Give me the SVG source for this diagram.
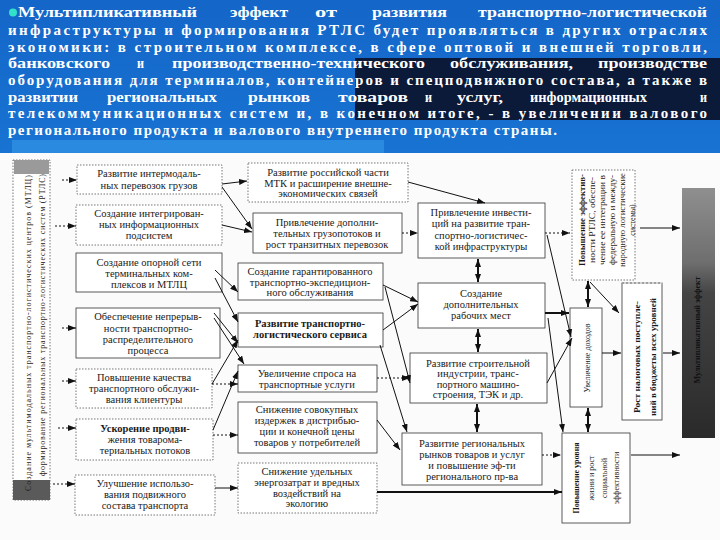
<svg xmlns="http://www.w3.org/2000/svg" width="720" height="540" viewBox="0 0 720 540">
<defs>
<marker id="a" viewBox="0 0 8 6" refX="8" refY="3" markerWidth="8" markerHeight="6" markerUnits="userSpaceOnUse" orient="auto-start-reverse"><path d="M0,0 L8,3 L0,6 z" fill="#111"/></marker>
<linearGradient id="g5" x1="0" y1="0" x2="0" y2="1"><stop offset="0" stop-color="#8f8f8f"/><stop offset="0.3" stop-color="#6e6e6e"/><stop offset="0.42" stop-color="#444"/><stop offset="1" stop-color="#2a2a2a"/></linearGradient>
<linearGradient id="gb" x1="0" y1="0" x2="0" y2="1"><stop offset="0" stop-color="#1466c8"/><stop offset="1" stop-color="#1873d2"/></linearGradient>
</defs>
<style>
.hd{font-family:"Liberation Serif",serif;font-weight:bold;font-size:15px;fill:#fff}
.bx{fill:#fff;stroke:#333;stroke-width:0.8}
.bd{fill:#fff;stroke:#555;stroke-width:0.8;stroke-dasharray:1.5 1.5}
.t{font-family:"Liberation Serif",serif;font-size:10.5px;fill:#1a1a1a;text-anchor:middle}
.s{font-size:8px}
.b{font-weight:bold}
.dk{fill:#111}
.c{fill:none;stroke:#111;stroke-width:1}
.d{stroke-dasharray:2 2}
.th{stroke-width:2}
</style>

<rect x="0" y="0" width="720" height="153" fill="url(#gb)"/>
<rect x="355" y="58" width="365" height="62" fill="#0b1a38"/>
<rect x="12" y="140" width="372" height="13" fill="#2a8ae0"/>

<g id="heading">
<circle cx="13" cy="12.5" r="4" fill="#33e0c8"/>
<text class="hd" x="18" y="17" textLength="179" lengthAdjust="spacingAndGlyphs">Мультипликативный</text>
<text class="hd" x="230" y="17" textLength="58" lengthAdjust="spacingAndGlyphs">эффект</text>
<text class="hd" x="315" y="17" textLength="22" lengthAdjust="spacingAndGlyphs">от</text>
<text class="hd" x="372" y="17" textLength="75" lengthAdjust="spacingAndGlyphs">развития</text>
<text class="hd" x="478" y="17" textLength="229" lengthAdjust="spacingAndGlyphs">транспортно-логистической</text>
<text class="hd" x="8" y="35" textLength="699" lengthAdjust="spacing">инфраструктуры и формирования РТЛС будет проявляться в других отраслях</text>
<text class="hd" x="8" y="52" textLength="699" lengthAdjust="spacing">экономики: в строительном комплексе, в сфере оптовой и внешней торговли,</text>
<text class="hd" x="8" y="68" textLength="102" lengthAdjust="spacingAndGlyphs">банковского</text>
<text class="hd" x="137" y="68" textLength="7" lengthAdjust="spacingAndGlyphs">и</text>
<text class="hd" x="172" y="68" textLength="253" lengthAdjust="spacingAndGlyphs">производственно-технического</text>
<text class="hd" x="450" y="68" textLength="123" lengthAdjust="spacingAndGlyphs">обслуживания,</text>
<text class="hd" x="598" y="68" textLength="109" lengthAdjust="spacingAndGlyphs">производстве</text>
<text class="hd" x="8" y="85" textLength="699" lengthAdjust="spacing">оборудования для терминалов, контейнеров и спецподвижного состава, а также в</text>
<text class="hd" x="8" y="102" textLength="70" lengthAdjust="spacingAndGlyphs">развитии</text>
<text class="hd" x="107" y="102" textLength="110" lengthAdjust="spacingAndGlyphs">региональных</text>
<text class="hd" x="248" y="102" textLength="62" lengthAdjust="spacingAndGlyphs">рынков</text>
<text class="hd" x="338" y="102" textLength="70" lengthAdjust="spacingAndGlyphs">товаров</text>
<text class="hd" x="425" y="102" textLength="7" lengthAdjust="spacingAndGlyphs">и</text>
<text class="hd" x="457" y="102" textLength="46" lengthAdjust="spacingAndGlyphs">услуг,</text>
<text class="hd" x="530" y="102" textLength="117" lengthAdjust="spacingAndGlyphs">информационных</text>
<text class="hd" x="700" y="102" textLength="7" lengthAdjust="spacingAndGlyphs">и</text>
<text class="hd" x="8" y="118" textLength="699" lengthAdjust="spacing">телекоммуникационных систем и, в конечном итоге, - в увеличении валового</text>
<text class="hd" x="8" y="135" textLength="549" lengthAdjust="spacing">регионального продукта и валового внутреннего продукта страны.</text>
</g>

<rect x="0" y="153" width="720" height="387" fill="#fbfbfb"/>

<g id="left-frame">
<rect x="13" y="160" width="37" height="340" class="bd"/>
<rect x="14" y="160" width="35" height="14" fill="#9a9a9a"/>
<rect x="13" y="480" width="37" height="20" fill="#5a5a5a"/>
<text class="t s" transform="translate(31,333) rotate(-90)" textLength="316" lengthAdjust="spacing">Создание мультимодальных транспортно-логистических центров (МТЛЦ)</text>
<text class="t s" transform="translate(45,325) rotate(-90)" textLength="302" lengthAdjust="spacing">формирование региональных транспортно-логистических систем (РТЛС)</text>
</g>

<g id="box1"><rect class="bd" x="77" y="165" width="145" height="29"/>
<text class="t" x="149" y="177">Развитие интермодаль-</text><text class="t" x="149" y="189">ных перевозок грузов</text></g>
<g id="box2"><rect class="bd" x="76" y="205" width="146" height="40"/>
<text class="t" x="149" y="217">Создание интегрирован-</text><text class="t" x="149" y="228">ных информационных</text><text class="t" x="149" y="239">подсистем</text></g>
<g id="box3"><rect class="bx" x="76" y="253" width="146" height="39"/>
<text class="t" x="149" y="266">Создание опорной сети</text><text class="t" x="149" y="277">терминальных ком-</text><text class="t" x="149" y="288">плексов и МТЛЦ</text></g>
<g id="box4"><rect class="bx" x="76" y="308" width="144" height="50"/>
<text class="t" x="148" y="320">Обеспечение непрерыв-</text><text class="t" x="148" y="332">ности транспортно-</text><text class="t" x="148" y="343">распределительного</text><text class="t" x="148" y="354">процесса</text></g>
<g id="box5"><rect class="bd" x="76" y="369" width="136" height="39"/>
<text class="t" x="144" y="381">Повышение качества</text><text class="t" x="144" y="392">транспортного обслужи-</text><text class="t" x="144" y="403">вания клиентуры</text></g>
<g id="box6"><rect class="bd" x="76" y="419" width="137" height="41"/>
<text class="t b" x="145" y="432">Ускорение продви-</text><text class="t" x="145" y="443">жения товарома-</text><text class="t" x="145" y="454">териальных потоков</text></g>
<g id="box7"><rect class="bd" x="75" y="475" width="140" height="40"/>
<text class="t" x="145" y="487">Улучшение использо-</text><text class="t" x="145" y="498">вания подвижного</text><text class="t" x="145" y="509">состава транспорта</text></g>

<g id="m1"><rect class="bd" x="248" y="163" width="160" height="39"/>
<text class="t" x="328" y="176">Развитие российской части</text><text class="t" x="328" y="187">МТК и расширение внешне-</text><text class="t" x="328" y="197">экономических связей</text></g>
<g id="m2"><rect class="bx" x="253" y="213" width="149" height="40"/>
<text class="t" x="327" y="226">Привлечение дополни-</text><text class="t" x="327" y="237">тельных грузопотоков и</text><text class="t" x="327" y="248">рост транзитных перевозок</text></g>
<g id="m3"><rect class="bx" x="238" y="263" width="145" height="37"/>
<text class="t" x="310" y="275">Создание гарантированного</text><text class="t" x="310" y="286">транспортно-экспедицион-</text><text class="t" x="310" y="296">ного обслуживания</text></g>
<g id="m4"><rect class="bx" x="238" y="313" width="145" height="34"/>
<text class="t b" x="310" y="327">Развитие транспортно-</text><text class="t b" x="310" y="338">логистического сервиса</text></g>
<g id="m5"><rect class="bx" x="238" y="365" width="139" height="27"/>
<text class="t" x="307" y="377">Увеличение спроса на</text><text class="t" x="307" y="388">транспортные услуги</text></g>
<g id="m6"><rect class="bx" x="238" y="402" width="139" height="51"/>
<text class="t" x="307" y="413">Снижение совокупных</text><text class="t" x="307" y="424">издержек в дистрибью-</text><text class="t" x="307" y="435">ции и конечной цены</text><text class="t" x="307" y="446">товаров у потребителей</text></g>
<g id="m7"><rect class="bd" x="238" y="463" width="139" height="50"/>
<text class="t" x="307" y="475">Снижение удельных</text><text class="t" x="307" y="486">энергозатрат и вредных</text><text class="t" x="307" y="497">воздействий на</text><text class="t" x="307" y="507">экологию</text></g>

<g id="r1"><rect class="bx" x="418" y="203" width="127" height="55"/>
<text class="t" x="481" y="216">Привлечение инвести-</text><text class="t" x="481" y="227">ций на развитие тран-</text><text class="t" x="481" y="239">спортно-логистичес-</text><text class="t" x="481" y="250">кой инфраструктуры</text></g>
<g id="r2"><rect class="bx" x="418" y="283" width="127" height="45"/>
<text class="t" x="481" y="297">Создание</text><text class="t" x="481" y="308">дополнительных</text><text class="t" x="481" y="319">рабочих мест</text></g>
<g id="r3"><rect class="bx" x="410" y="353" width="137" height="50"/>
<text class="t" x="478" y="367">Развитие строительной</text><text class="t" x="478" y="377">индустрии, транс-</text><text class="t" x="478" y="388">портного машино-</text><text class="t" x="478" y="398">строения, ТЭК и др.</text></g>
<g id="r4"><rect class="bx" x="402" y="433" width="140" height="52"/>
<text class="t" x="472" y="447">Развитие региональных</text><text class="t" x="472" y="458">рынков товаров и услуг</text><text class="t" x="472" y="469">и повышение эф-ти</text><text class="t" x="472" y="480">регионального пр-ва</text></g>

<g id="f1"><rect class="bd" x="572" y="170" width="63" height="110"/>
<g transform="translate(603.5,220) rotate(-90)">
<text class="t s b" x="0" y="-19" textLength="92" lengthAdjust="spacingAndGlyphs">Повышение эффектив-</text>
<text class="t s" x="0" y="-9" textLength="86" lengthAdjust="spacingAndGlyphs">ности РТЛС, обеспе-</text>
<text class="t s" x="0" y="1" textLength="90" lengthAdjust="spacingAndGlyphs">чение ее интеграции в</text>
<text class="t s" x="0" y="11" textLength="90" lengthAdjust="spacingAndGlyphs">федеральную и между-</text>
<text class="t s" x="0" y="21" textLength="94" lengthAdjust="spacingAndGlyphs">народную логистические</text>
<text class="t s" x="0" y="31">системы)</text></g></g>
<g id="f2"><rect class="bx" x="570" y="308" width="32" height="99"/>
<text class="t s" transform="translate(589.5,358) rotate(-90)">Увеличение доходов</text></g>
<g id="f3"><rect class="bx" x="622" y="283" width="40" height="137"/>
<path d="M622,283 H662" stroke="#fbfbfb" stroke-width="1.2"/><path d="M622,283 H662" stroke="#555" stroke-width="0.8" stroke-dasharray="2 2"/>
<g transform="translate(642,357) rotate(-90)">
<text class="t s b" x="0" y="-2.5" textLength="112" lengthAdjust="spacingAndGlyphs">Рост налоговых поступле-</text>
<text class="t s b" x="0" y="13.5" textLength="118" lengthAdjust="spacingAndGlyphs">ний в бюджеты всех уровней</text></g></g>
<g id="f4"><rect class="bx" x="562" y="433" width="68" height="90"/>
<g transform="translate(596,478) rotate(-90)">
<text class="t s b" x="0" y="-17.5">Повышение уровня</text><text class="t s" x="0" y="-2.5">жизни и рост</text><text class="t s" x="0" y="10.5">социальной</text><text class="t s" x="0" y="22.5">эффективности</text></g></g>
<g id="f5"><rect x="682" y="188" width="33" height="250" fill="url(#g5)"/>
<text class="t s b dk" transform="translate(700,330) rotate(-90)">Мультипликативный эффект</text></g>

<g id="connectors">
<path class="c d" marker-end="url(#a)" d="M62,180 H77"/>
<path class="c d" marker-end="url(#a)" d="M55,226 H76"/>
<path class="c d" marker-end="url(#a)" d="M62,328 H76"/>
<path class="c d" marker-end="url(#a)" d="M62,381 H76"/>
<path class="c d" marker-end="url(#a)" d="M58,428 H76"/>
<path class="c d" marker-end="url(#a)" d="M53,484 H75"/>
<path class="c" marker-end="url(#a)" d="M222,184 L247,181"/>
<path class="c" marker-end="url(#a)" d="M222,187 L252,229"/>
<path class="c" marker-end="url(#a)" d="M222,225 L252,232"/>
<path class="c" marker-end="url(#a)" d="M215,270 L238,292"/>
<path class="c" marker-end="url(#a)" d="M215,278 L238,322"/>
<path class="c" marker-end="url(#a)" d="M214,313 L238,343"/>
<path class="c" marker-end="url(#a)" d="M214,318 L244,364"/>
<path class="c" marker-end="url(#a)" d="M212,384 L238,340"/>
<path class="c d" marker-end="url(#a)" d="M212,384 H238"/>
<path class="c" marker-end="url(#a)" d="M213,430 L238,371"/>
<path class="c d" marker-end="url(#a)" d="M213,435 H238"/>
<path class="c" marker-end="url(#a)" d="M215,488 H238"/>
<path class="c" marker-end="url(#a)" d="M408,182 L485,203"/>
<path class="c d" marker-end="url(#a)" d="M402,233 H418"/>
<path class="c d" marker-end="url(#a)" d="M545,233 H570"/>
<path class="c th" marker-start="url(#a)" marker-end="url(#a)" d="M478,259 V282"/>
<path class="c th" marker-start="url(#a)" marker-end="url(#a)" d="M478,329 V352"/>
<path class="c th" marker-start="url(#a)" marker-end="url(#a)" d="M477,404 V432"/>
<path class="c" marker-end="url(#a)" d="M383,285 L418,302"/>
<path class="c" marker-end="url(#a)" d="M383,330 L418,304"/>
<path class="c" marker-end="url(#a)" d="M385,287 L410,383"/>
<path class="c" marker-end="url(#a)" d="M380,345 L407,432"/>
<path class="c d" marker-end="url(#a)" d="M377,378 H410"/>
<path class="c" marker-end="url(#a)" d="M377,420 L400,450"/>
<path class="c th" marker-end="url(#a)" d="M377,492 H562"/>
<path class="c th" marker-end="url(#a)" d="M545,313 H569"/>
<path class="c" marker-end="url(#a)" d="M547,235 L571,337"/>
<path class="c" marker-end="url(#a)" d="M547,383 L572,338"/>
<path class="c" marker-end="url(#a)" d="M548,318 L563,432"/>
<path class="c d" marker-end="url(#a)" d="M542,455 H561"/>
<path class="c th" marker-start="url(#a)" marker-end="url(#a)" d="M588,281 V307"/>
<path class="c" marker-end="url(#a)" d="M590,282 L619,313"/>
<path class="c th" marker-start="url(#a)" marker-end="url(#a)" d="M588,408 V432"/>
<path class="c" marker-end="url(#a)" d="M602,353 H621"/>
<path class="c" marker-end="url(#a)" d="M640,228 H680"/>
<path class="c" marker-end="url(#a)" d="M663,353 H680"/>
<path class="c" marker-end="url(#a)" d="M631,455 H680"/>
</g>
</svg>
